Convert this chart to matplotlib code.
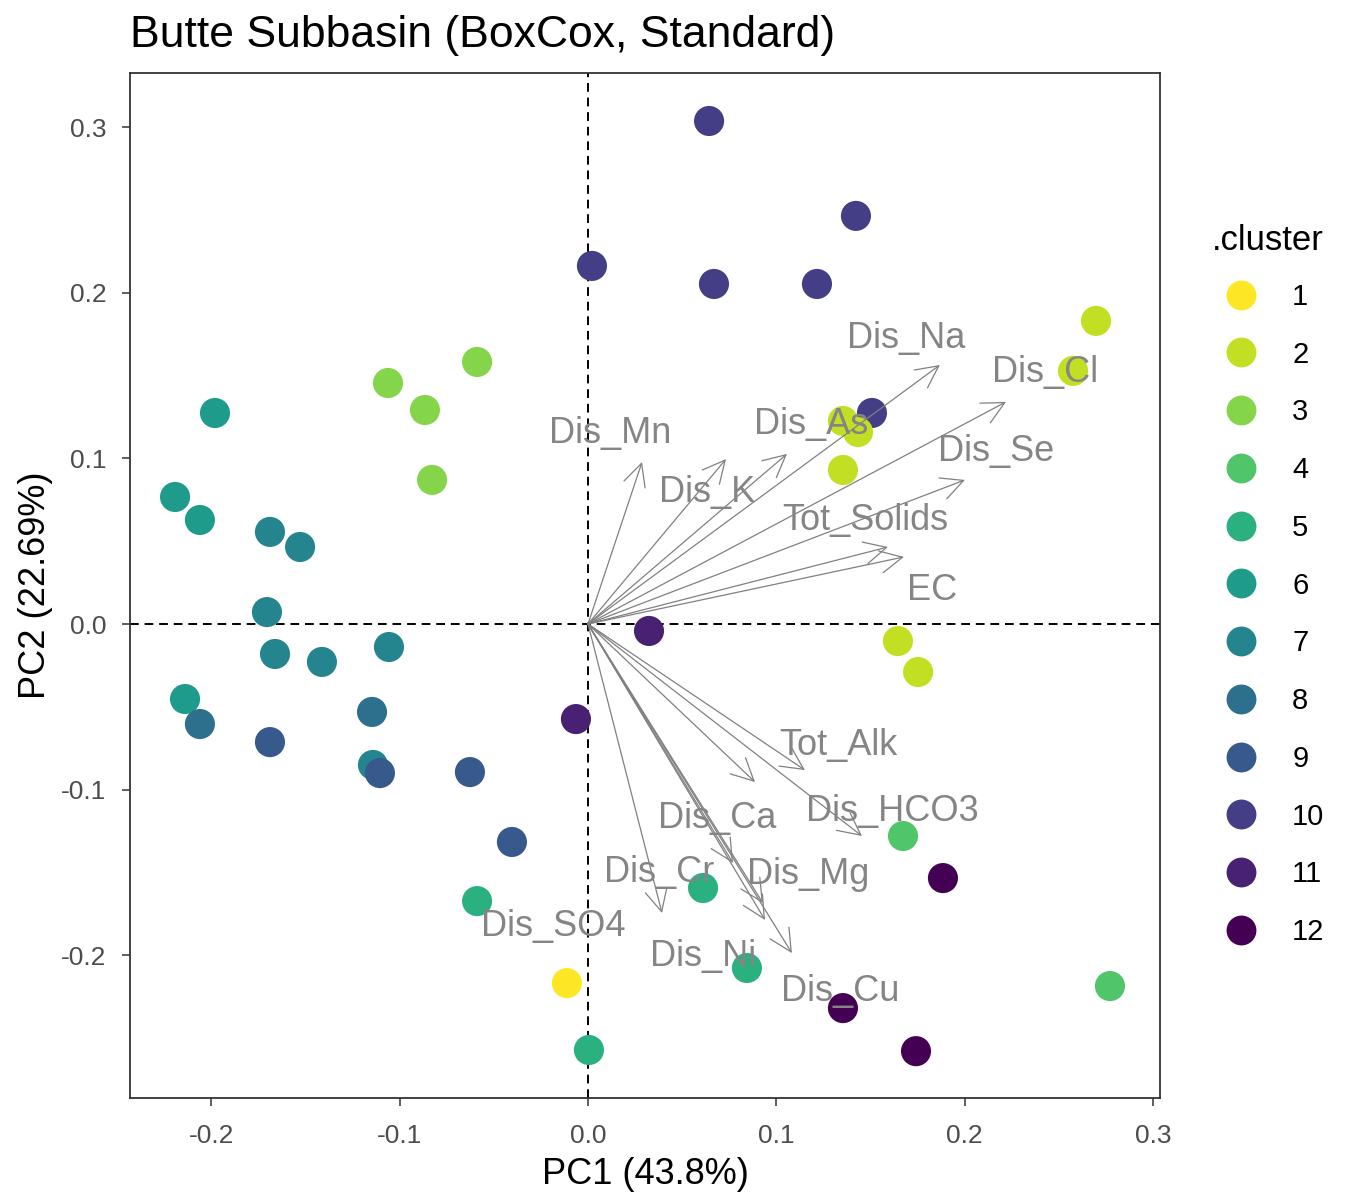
import matplotlib
matplotlib.use("Agg")
import matplotlib.pyplot as plt
from matplotlib.lines import Line2D

plt.rcParams['font.family'] = ['Liberation Sans', 'DejaVu Sans']

# PCA scores for each sample and its k-means cluster
pc1 = [0.0643, 0.1423, 0.0021, 0.0669, 0.1216, 0.2698, 0.2576, 0.1508, 0.1354,
       0.1434, 0.1354, -0.1062, -0.0589, -0.0866, -0.0828, -0.1981, -0.2193,
       -0.2061, -0.1689, -0.1529, -0.1705, -0.1662, -0.1413, -0.1057, -0.2140,
       -0.2061, -0.1689, -0.1147, -0.1142, -0.1105, -0.0627, -0.0404, -0.0589,
       0.0324, -0.0064, 0.1646, 0.1753, 0.1673, 0.1885, 0.0611, 0.0844,
       -0.0112, 0.0005, 0.1354, 0.1742, 0.2772]
pc2 = [0.3037, 0.2464, 0.2162, 0.2053, 0.2053, 0.1830, 0.1528, 0.1274, 0.1226,
       0.1159, 0.0930, 0.1455, 0.1582, 0.1292, 0.0870, 0.1274, 0.0767,
       0.0628, 0.0556, 0.0465, 0.0072, -0.0181, -0.0229, -0.0139, -0.0453,
       -0.0604, -0.0713, -0.0531, -0.0851, -0.0900, -0.0894, -0.1316, -0.1673,
       -0.0042, -0.0574, -0.0103, -0.0290, -0.1280, -0.1534, -0.1594, -0.2077,
       -0.2168, -0.2572, -0.2319, -0.2579, -0.2186]
cluster = [10, 10, 10, 10, 10, 2, 2, 10, 2,
           2, 2, 3, 3, 3, 3, 6, 6,
           6, 7, 7, 7, 7, 7, 7, 6,
           8, 9, 8, 7, 9, 9, 9, 5,
           11, 11, 2, 2, 4, 12, 5, 5,
           1, 5, 12, 12, 4]

# variable loadings (arrow tips)
loading_names = ['Dis_Mn', 'Dis_K', 'Dis_As', 'Dis_Na', 'Dis_Cl', 'Dis_Se',
                 'Tot_Solids', 'EC', 'Tot_Alk', 'Dis_Ca', 'Dis_HCO3', 'Dis_Cr',
                 'Dis_Mg', 'Dis_Ni', 'Dis_Cu', 'Dis_SO4']
loading_pc1 = [0.0287, 0.0733, 0.1057, 0.1869, 0.2220, 0.2002,
               0.1593, 0.1678, 0.1152, 0.0887, 0.1455, 0.0770,
               0.0929, 0.0940, 0.1083, 0.0393]
loading_pc2 = [0.0978, 0.0996, 0.1027, 0.1564, 0.1341, 0.0870,
               0.0465, 0.0405, -0.0882, -0.0954, -0.1280, -0.1443,
               -0.1685, -0.1787, -0.1987, -0.1745]

cluster_levels = list(range(1, 13))
viridis_rev = ['#FDE725', '#C2DF23', '#85D54A', '#51C56A', '#2BB07F', '#1E9B8A',
               '#25858E', '#2D708E', '#38598C', '#433E85', '#482173', '#440154']

# repelled label offsets from each arrow tip
label_nudge = {
    'Dis_Mn': (-0.017, 0.0175), 'Dis_K': (-0.010, -0.020),
    'Dis_As': (0.013, 0.0175), 'Dis_Na': (-0.018, 0.016),
    'Dis_Cl': (0.021, 0.0175), 'Dis_Se': (0.0165, 0.017),
    'Tot_Solids': (-0.012, 0.016), 'EC': (0.015, -0.020),
    'Tot_Alk': (0.018, 0.015), 'Dis_Ca': (-0.020, -0.022),
    'Dis_HCO3': (0.016, 0.015), 'Dis_Cr': (-0.039, -0.0055),
    'Dis_Mg': (0.024, 0.017), 'Dis_Ni': (-0.033, -0.022),
    'Dis_Cu': (0.0255, -0.023), 'Dis_SO4': (-0.058, -0.008),
}

fig = plt.figure(figsize=(13.59, 12.02), dpi=100)
ax = fig.add_axes([0.0957, 0.0865, 0.7579, 0.8528])

ax.axhline(0, color='black', lw=1.4, ls=(0, (4.5, 3)), zorder=1)
ax.axvline(0, color='black', lw=1.4, ls=(0, (4.5, 3)), zorder=1)

colors = [viridis_rev[c - 1] for c in cluster]
ax.scatter(pc1, pc2, s=470, c=colors, linewidths=0, zorder=2)

for name, lx, ly in zip(loading_names, loading_pc1, loading_pc2):
    ax.annotate('', xy=(lx, ly), xytext=(0, 0),
                arrowprops=dict(arrowstyle='->,head_length=1.6,head_width=0.8',
                                color='#808080', lw=0.9, shrinkA=0, shrinkB=0,
                                mutation_scale=10),
                zorder=3)
    dx, dy = label_nudge[name]
    ax.text(lx + dx, ly + dy, name, fontsize=26, color='#858585',
            ha='center', va='center', zorder=4)

ax.set_xlim(-0.2432, 0.3038)
ax.set_ylim(-0.2862, 0.3327)
ax.set_xticks([-0.2, -0.1, 0.0, 0.1, 0.2, 0.3])
ax.set_yticks([-0.2, -0.1, 0.0, 0.1, 0.2, 0.3])
ax.set_xticklabels(['-0.2', '-0.1', '0.0', '0.1', '0.2', '0.3'])
ax.set_yticklabels(['-0.2', '-0.1', '0.0', '0.1', '0.2', '0.3'])
ax.tick_params(length=6, width=1.1, color='#333333', labelcolor='#4D4D4D',
               labelsize=19)
ax.tick_params(axis='x', pad=13)
ax.tick_params(axis='y', pad=11)
for sp in ax.spines.values():
    sp.set_color('#333333')
    sp.set_linewidth(1.3)

ax.set_xlabel('PC1 (43.8%)', fontsize=26, labelpad=6)
ax.set_ylabel('PC2 (22.69%)', fontsize=26, labelpad=6)
fig.text(130 / 1359, 1 - 35 / 1202, 'Butte Subbasin (BoxCox, Standard)',
         fontsize=32, ha='left', va='center')

handles = [Line2D([], [], marker='o', ls='', ms=21.5, mfc=col, mec='none')
           for col in viridis_rev]
leg = ax.legend(handles, [str(c) for c in cluster_levels], title='.cluster',
                loc='upper left', bbox_to_anchor=(1212 / 1359, 1 - 220 / 1202),
                bbox_transform=fig.transFigure, frameon=False, fontsize=21,
                title_fontsize=25, labelspacing=1.02, handletextpad=0.75,
                borderaxespad=0, borderpad=0, alignment='left')
leg.get_title().set_position((0, -4))

fig.savefig('out.png', dpi=100)
